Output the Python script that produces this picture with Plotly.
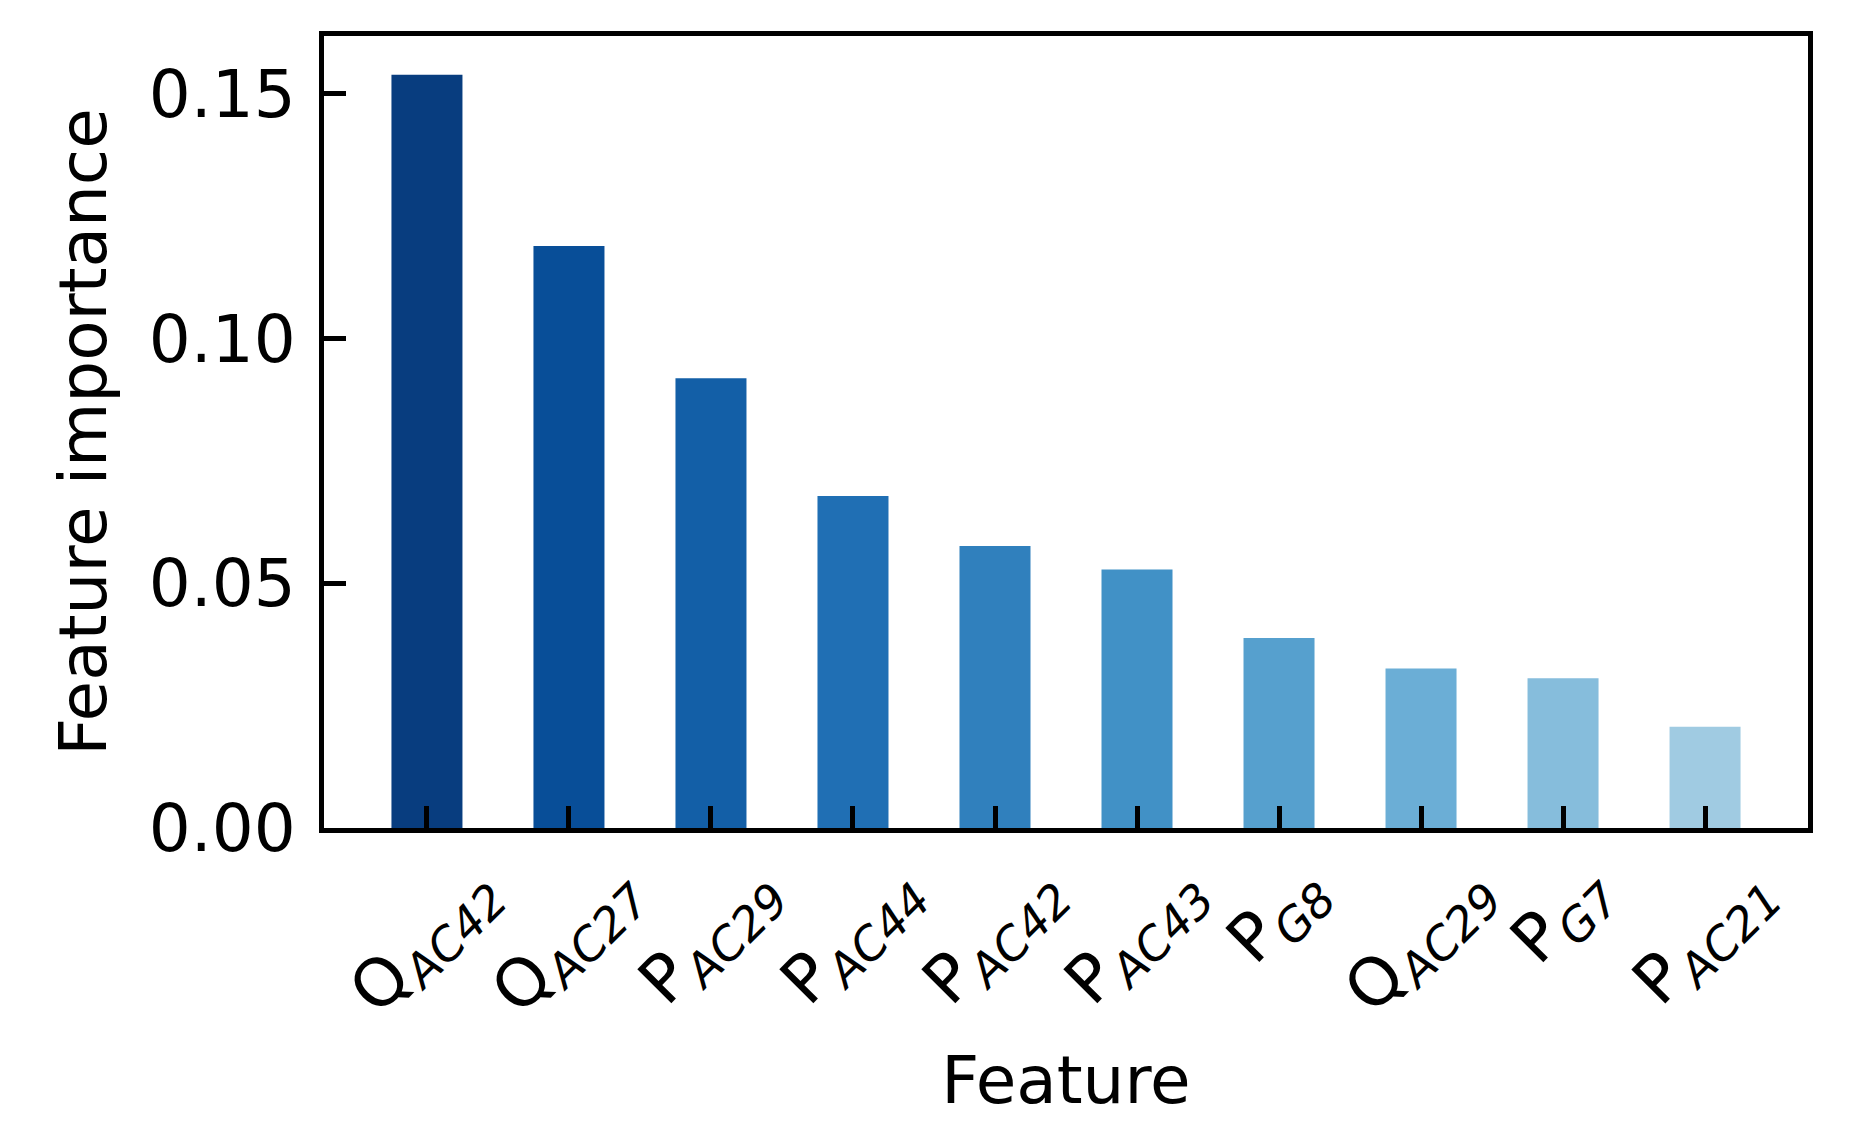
import numpy as np
import plotly.graph_objects as go
from plotly.colors import sample_colorscale

# ---- data ----
features = ["Q_AC42", "Q_AC27", "P_AC29", "P_AC44", "P_AC42",
            "P_AC43", "P_G8", "Q_AC29", "P_G7", "P_AC21"]
importance = [0.1539, 0.1189, 0.0919, 0.0678, 0.0576,
              0.0528, 0.0388, 0.0326, 0.0306, 0.0207]
y_ticks = [0.00, 0.05, 0.10, 0.15]
y_tick_labels = ["0.00", "0.05", "0.10", "0.15"]

colors = sample_colorscale("Blues", list(np.linspace(0.95, 0.37, len(features))))

FONT = "DejaVu Sans"
FS_TICK = 66
FS_TITLE = 66
FS_XLAB = 66

def label_html(name):
    main, sub = name.split("_")
    return f"{main}<sub><i>{sub}</i></sub>"

fig = go.Figure()
fig.add_trace(go.Bar(
    x=features, y=importance, width=0.5,
    marker=dict(color=colors, line=dict(width=0)),
    showlegend=False,
))

for f in features:
    fig.add_annotation(
        x=f, xref="x", y=-0.024, yref="paper",
        text=label_html(f), textangle=-45, showarrow=False,
        xanchor="center", yanchor="top",
        font=dict(family=FONT, size=FS_XLAB, color="black"),
    )

fig.update_xaxes(
    range=[-0.725, 9.725], showticklabels=False,
    ticks="inside", ticklen=22, tickwidth=5, tickcolor="black",
    showline=True, linewidth=5, linecolor="black", mirror=True,
    showgrid=False, zeroline=False,
    title=dict(text="Feature", font=dict(family=FONT, size=FS_TITLE, color="black"), standoff=226),
)
fig.update_yaxes(
    range=[0, 0.1618], tickvals=y_ticks, ticktext=y_tick_labels,
    ticks="inside", ticklen=22, tickwidth=5, tickcolor="black",
    ticklabelstandoff=10,
    showline=True, linewidth=5, linecolor="black", mirror=True,
    showgrid=False, zeroline=False,
    tickfont=dict(family=FONT, size=FS_TICK, color="black"),
    title=dict(text="Feature importance", font=dict(family=FONT, size=FS_TITLE, color="black"), standoff=22),
)
fig.update_layout(
    width=1853, height=1133, autosize=False,
    margin=dict(l=316, r=53, t=28, b=313),
    plot_bgcolor="white", paper_bgcolor="white",
    font=dict(family=FONT, size=FS_TICK, color="black"),
)
fig.write_html("out.html")
